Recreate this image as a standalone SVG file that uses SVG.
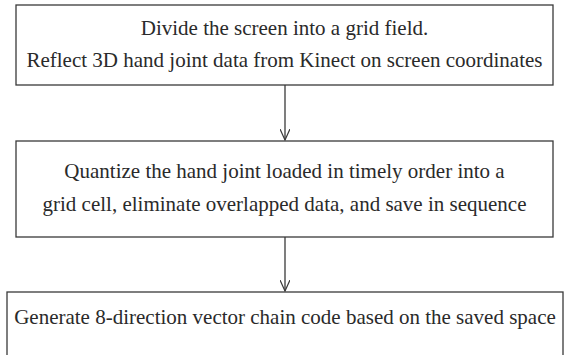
<svg xmlns="http://www.w3.org/2000/svg" width="565" height="355" viewBox="0 0 565 355">
  <style>
    .box { fill: #ffffff; stroke: #3a3a3a; stroke-width: 1.3; }
    .lbl { font-family: 'Liberation Serif', 'Times New Roman', Times, 'DejaVu Serif', serif; font-size: 21px; fill: #2a2a2a; text-anchor: middle; }
    .edge { fill: none; stroke: #3a3a3a; stroke-width: 1.3; }
  </style>
  <defs>
    <marker id="arrow" viewBox="0 0 12 10" refX="11" refY="5" markerWidth="12" markerHeight="10" markerUnits="userSpaceOnUse" orient="auto">
      <path d="M0,0 L11,5 L0,10" fill="none" stroke="#3a3a3a" stroke-width="1.2"/>
    </marker>
  </defs>
  <rect width="565" height="355" fill="#ffffff"/>

  <g id="step1">
    <rect class="box" x="16" y="5" width="537" height="80"/>
    <text class="lbl" x="284.5" y="35">Divide the screen into a grid field.</text>
    <text class="lbl" x="284.5" y="67">Reflect 3D hand joint data from Kinect on screen coordinates</text>
  </g>

  <g id="step2">
    <rect class="box" x="16" y="141" width="537" height="96"/>
    <text class="lbl" x="284.5" y="178">Quantize the hand joint loaded in timely order into a</text>
    <text class="lbl" x="284.5" y="211">grid cell, eliminate overlapped data, and save in sequence</text>
  </g>

  <g id="step3">
    <rect class="box" x="7" y="292" width="556" height="70"/>
    <text class="lbl" x="285" y="324">Generate 8-direction vector chain code based on the saved space</text>
  </g>

  <g id="connectors">
    <line class="edge" x1="285" y1="85" x2="285" y2="140" marker-end="url(#arrow)"/>
    <line class="edge" x1="285" y1="237" x2="285" y2="291" marker-end="url(#arrow)"/>
  </g>
</svg>
